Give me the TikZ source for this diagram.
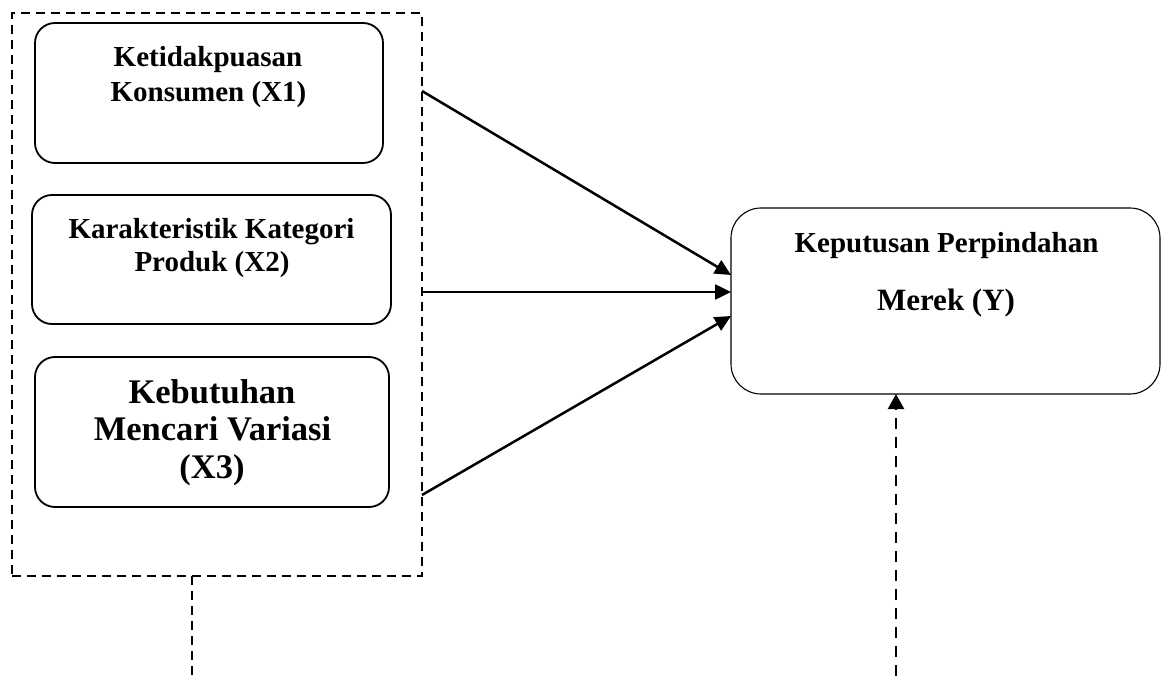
\documentclass[tikz,border=0pt]{standalone}
\usepackage{fontspec}
\setmainfont{Liberation Serif}
\usetikzlibrary{arrows.meta}
\tikzset{
  varbox/.style={draw=black, line width=1.8pt, rounded corners=20pt, inner sep=0pt},
  ybox/.style={draw=black, line width=1.1pt, rounded corners=30pt, inner sep=0pt},
  groupbox/.style={draw=black, line width=1.8pt, dash pattern=on 9pt off 6pt, inner sep=0pt},
  lbl/.style={anchor=base, inner sep=0pt, font=\bfseries\fontsize{29}{34}\selectfont},
  lblbig/.style={anchor=base, inner sep=0pt, font=\bfseries\fontsize{34.5}{40}\selectfont},
  lblmid/.style={anchor=base, inner sep=0pt, font=\bfseries\fontsize{31}{36}\selectfont},
  arr/.style={line width=2.5pt, -{Triangle[length=16pt,width=15pt]}},
  darr/.style={line width=2.3pt, dash pattern=on 11pt off 8pt, -{Triangle[length=15pt,width=16pt]}},
  dline/.style={line width=1.8pt, dash pattern=on 9pt off 6pt}
}
\begin{document}
\begin{tikzpicture}[x=1pt,y=-1pt]
\useasboundingbox (0,0) rectangle (1161,676);
% group box
\node[groupbox, minimum width=410pt, minimum height=563pt] (G) at (217,294.5) {};
% variable boxes
\node[varbox, minimum width=348pt, minimum height=140pt] (X1) at (209,93) {};
\node[varbox, minimum width=359pt, minimum height=129pt] (X2) at (211.5,259.5) {};
\node[varbox, minimum width=354pt, minimum height=150pt] (X3) at (212,432) {};
\node[ybox, minimum width=429pt, minimum height=186pt] (Y) at (945.5,301) {};
% labels
\node[lbl] (t1a) at (208,67) {Ketidakpuasan};
\node[lbl] (t1b) at (208.5,102) {Konsumen (X1)};
\node[lbl] (t2a) at (211.5,239) {Karakteristik Kategori};
\node[lbl] (t2b) at (212,272) {Produk (X2)};
\node[lblbig] (t3a) at (212,403) {Kebutuhan};
\node[lblbig] (t3b) at (212.5,440) {Mencari Variasi};
\node[lblbig] (t3c) at (212,478) {(X3)};
\node[lbl] (tya) at (946.5,253) {Keputusan Perpindahan};
\node[lblmid] (tyb) at (946,310) {Merek (Y)};
% connector coordinates
\coordinate (s1) at (422,91);
\coordinate (s2) at (422,292);
\coordinate (s3) at (422,495);
\coordinate (e1) at (731,275);
\coordinate (e2) at (731,292);
\coordinate (e3) at (731,316);
\coordinate (d1) at (192,576);
\coordinate (d2) at (192,676);
\coordinate (f1) at (896,676);
\coordinate (f2) at (896,394);
% connectors
\draw[arr] (s1) -- (e1);
\draw[arr] (s2) -- (e2);
\draw[arr] (s3) -- (e3);
\draw[dline] (d1) -- (d2);
\draw[darr] (f1) -- (f2);
\end{tikzpicture}
\end{document}
